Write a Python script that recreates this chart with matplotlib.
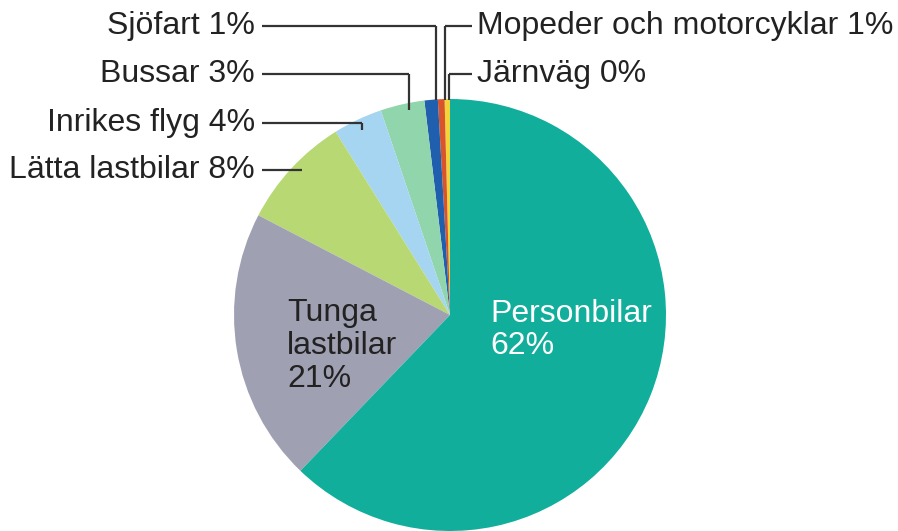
import matplotlib.pyplot as plt

# slices in counterclockwise order starting at 12 o'clock
names = ['Järnväg', 'Mopeder och motorcyklar', 'Sjöfart', 'Bussar',
         'Inrikes flyg', 'Lätta lastbilar', 'Tunga lastbilar', 'Personbilar']
shares = [0.4, 0.5, 1.0, 3.3, 3.7, 8.5, 20.5, 62.3]
labels = ['Järnväg 0%', 'Mopeder och motorcyklar 1%', 'Sjöfart 1%', 'Bussar 3%',
          'Inrikes flyg 4%', 'Lätta lastbilar 8%', 'Tunga\nlastbilar\n21%', 'Personbilar\n62%']
colors = ['#F2D43A', '#D9542A', '#1F5FAD', '#90D5AC',
          '#A5D5F0', '#B8D873', '#9FA1B3', '#11AE9C']

plt.rcParams['font.family'] = ['Liberation Sans', 'DejaVu Sans']

W, H = 898, 531
fig = plt.figure(figsize=(W / 100, H / 100), dpi=100)
ax = fig.add_axes([0, 0, 1, 1])

cx, cy, r = 450, H - 315, 216
ax.pie(shares, colors=colors, startangle=90, counterclock=True,
       center=(cx, cy), radius=r, frame=True,
       wedgeprops=dict(linewidth=0))
ax.set_xlim(0, W)
ax.set_ylim(0, H)
ax.set_aspect('equal')
ax.axis('off')

fs = 23
lc = '#333333'
lw = 1.6

def Y(p):
    return H - p

# left side callouts: (label, text y, line end x, line drop y)
left = [(labels[2], 26, 436, 100),
        (labels[3], 74, 409, 110),
        (labels[4], 123, 362, 130),
        (labels[5], 170, 302, None)]
for txt, ty, xe, yd in left:
    ax.text(255, Y(ty), txt, ha='right', va='center', fontsize=fs, color='#222222')
    ax.plot([262, xe], [Y(ty), Y(ty)], color=lc, lw=lw, solid_capstyle='butt')
    if yd is not None:
        ax.plot([xe, xe], [Y(ty), Y(yd)], color=lc, lw=lw, solid_capstyle='butt')

# right side callouts
right = [(labels[1], 26, 445),
         (labels[0], 74, 449)]
for txt, ty, xs in right:
    ax.text(477, Y(ty), txt, ha='left', va='center', fontsize=fs, color='#222222')
    ax.plot([xs, 472], [Y(ty), Y(ty)], color=lc, lw=lw, solid_capstyle='butt')
    ax.plot([xs, xs], [Y(ty), Y(100)], color=lc, lw=lw, solid_capstyle='butt')

# inside labels
ax.text(490, Y(330), labels[7], ha='left', va='center', fontsize=fs,
        color='white', linespacing=1.12)
ax.text(287, Y(346), labels[6], ha='left', va='center', fontsize=fs,
        color='#222222', linespacing=1.12)

fig.savefig('out.png', dpi=100)
